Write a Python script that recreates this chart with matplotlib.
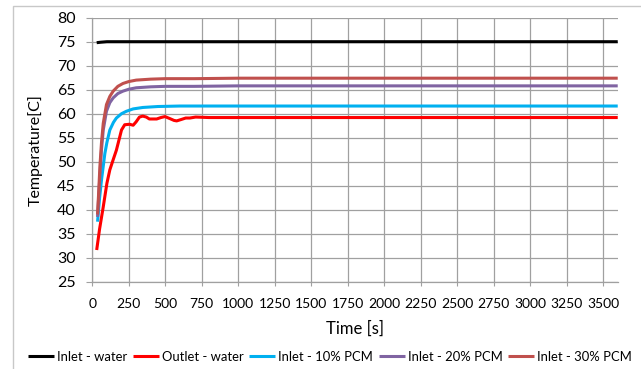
import matplotlib
matplotlib.use("Agg")
import matplotlib.pyplot as plt
from matplotlib.patches import Rectangle

plt.rcParams['font.family'] = ['Lato', 'DejaVu Sans']

# Data
t_inlet_water = [30, 60, 100, 200, 500, 1000, 2000, 3000, 3600]
v_inlet_water = [74.8, 74.9, 75.0, 75.0, 75.0, 75.0, 75.0, 75.0, 75.0]

t_outlet = [30, 50, 75, 100, 120, 145, 165, 185, 200, 222, 255, 280, 300, 323, 346, 370,
            391, 420, 441, 470, 498, 530, 560, 578, 610, 640, 668, 708, 800, 1000, 1500, 2000, 2500, 3000, 3600]
v_outlet = [31.6, 36.0, 40.6, 45.5, 48.3, 50.6, 52.4, 54.8, 56.6, 57.7, 57.8, 57.6, 58.3, 59.3, 59.5, 59.3,
            58.9, 58.9, 58.9, 59.2, 59.4, 59.0, 58.6, 58.5, 58.8, 59.1, 59.1, 59.3, 59.2, 59.2, 59.2, 59.2, 59.2, 59.2, 59.2]

t_10 = [36, 50, 63, 86, 100, 120, 145, 165, 200, 233, 280, 346, 450, 600, 1000, 2000, 3000, 3600]
v_10 = [37.5, 42.5, 46.2, 51.7, 54.0, 56.6, 58.2, 59.1, 60.0, 60.5, 61.0, 61.3, 61.5, 61.6, 61.6, 61.6, 61.6, 61.6]

t_20 = [36, 45, 52, 63, 75, 97, 120, 143, 175, 210, 250, 301, 400, 500, 700, 1000, 2000, 3000, 3600]
v_20 = [38.5, 43.5, 46.9, 52.5, 56.6, 60.5, 62.3, 63.3, 64.2, 64.7, 65.1, 65.4, 65.6, 65.7, 65.7, 65.8, 65.8, 65.8, 65.8]

t_30 = [36, 45, 52, 63, 75, 97, 120, 143, 175, 210, 250, 301, 400, 500, 700, 1000, 2000, 3000, 3600]
v_30 = [39.0, 44.5, 49.0, 54.0, 58.0, 61.9, 63.6, 64.7, 65.7, 66.3, 66.7, 67.0, 67.2, 67.3, 67.3, 67.4, 67.4, 67.4, 67.4]

series_labels = ['Inlet - water', 'Outlet - water', 'Inlet - 10% PCM', 'Inlet - 20% PCM', 'Inlet - 30% PCM']
series_colors = ['#000000', '#FF0000', '#00B0F0', '#8064A2', '#C0504D']

x_ticks = list(range(0, 3501, 250))
y_ticks = list(range(25, 81, 5))

fig = plt.figure(figsize=(6.41, 3.69), dpi=100)
ax = fig.add_axes([0.144, 0.2366, 0.8197, 0.7154])

data = [(t_inlet_water, v_inlet_water), (t_outlet, v_outlet), (t_10, v_10), (t_20, v_20), (t_30, v_30)]
for (t, v), lab, col in zip(data, series_labels, series_colors):
    ax.plot(t, v, color=col, lw=2.2, label=lab, solid_capstyle='butt', zorder=3)

ax.set_xlim(0, 3600)
ax.set_ylim(25, 80)
ax.set_xticks(x_ticks)
ax.set_yticks(y_ticks)
ax.grid(True, color='#A0A0A0', lw=0.9)
for s in ['top', 'right']:
    ax.spines[s].set_visible(False)
for s in ['left', 'bottom']:
    ax.spines[s].set_color('#A0A0A0')
    ax.spines[s].set_linewidth(0.9)
ax.tick_params(axis='y', length=4, color='#A0A0A0', labelsize=11.5, pad=8)
ax.tick_params(axis='x', length=3, color='#A0A0A0', labelsize=10, pad=9)
ax.set_xlabel('Time [s]', fontsize=12, labelpad=7)
ax.set_ylabel('Temperature[C]', fontsize=11.5, labelpad=10)

leg = fig.legend(loc='center', bbox_to_anchor=(330/641, 1 - 357/369), ncol=5, frameon=False,
                 fontsize=9.4, handlelength=2.0, handletextpad=0.2, columnspacing=0.45,
                 borderaxespad=0, borderpad=0)

fig.patches.append(Rectangle((13/641, -0.1), 2, 1.1 - 6/369, transform=fig.transFigure,
                             fill=False, edgecolor='#C8C8C8', lw=1.0))

fig.savefig('out.png', dpi=100)
